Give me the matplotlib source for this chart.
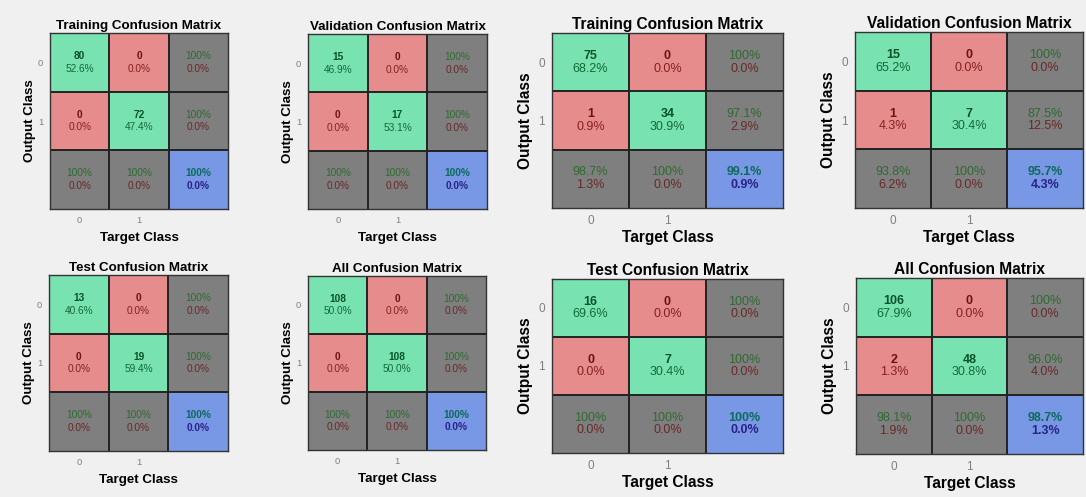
import numpy as np
import matplotlib
matplotlib.use("Agg")
import matplotlib.pyplot as plt

plt.rcParams['font.family'] = ['Liberation Sans', 'DejaVu Sans']

# Data: rows = output class, columns = target class
titles = ["Training", "Validation", "Test", "All"]
classes = ["0", "1"]

# first network (two left columns)
left_counts = [
    [[80, 0], [0, 72]],
    [[15, 0], [0, 17]],
    [[13, 0], [0, 19]],
    [[108, 0], [0, 108]],
]
# second network (two right columns)
right_counts = [
    [[75, 0], [1, 34]],
    [[15, 0], [1, 7]],
    [[16, 0], [0, 7]],
    [[106, 0], [2, 48]],
]

# axes boxes in pixels: (x0, y0, x1, y1), top-left origin
W, H = 1086, 497
left_boxes = [(50, 33, 228, 209), (308, 34, 487, 209),
              (49, 275, 228, 451), (308, 276, 486, 450)]
right_boxes = [(552, 33, 783, 208), (855, 32, 1083, 208),
               (552, 279, 783, 453), (856, 278, 1083, 454)]

GREEN = "#78e2b1"
RED = "#e68c8c"
GRAY = "#7f7f7f"
BLUE = "#7898e6"


def fmt(p):
    if abs(p - 100) < 1e-9:
        return "100%"
    return f"{p:.1f}%"


def draw_cm(fig, box, cm, title, big=False):
    x0, y0, x1, y1 = box
    ax = fig.add_axes([x0 / W, 1 - y1 / H, (x1 - x0) / W, (y1 - y0) / H])
    cm = np.array(cm, dtype=float)
    total = cm.sum()
    fs_cell = 9.0 if big else 7.3
    fs_lab = 11.2 if big else 9.6

    colors = np.empty((3, 3), dtype=object)
    for i in range(3):
        for j in range(3):
            if i < 2 and j < 2:
                colors[i, j] = GREEN if i == j else RED
            elif i == 2 and j == 2:
                colors[i, j] = BLUE
            else:
                colors[i, j] = GRAY
    rgb = np.array([[matplotlib.colors.to_rgb(colors[i, j]) for j in range(3)]
                    for i in range(3)])
    ax.imshow(rgb, extent=(-0.5, 2.5, 2.5, -0.5), aspect="auto",
              interpolation="nearest")

    dy = 0.11
    for i in range(2):
        for j in range(2):
            n = int(cm[i, j])
            p = 100 * cm[i, j] / total
            if i == j:
                c1, c2 = "#085426", "#126a36"
            else:
                c1, c2 = "#701010", "#862020"
            ax.text(j, i - dy, str(n), ha="center", va="center",
                    fontsize=fs_cell, fontweight="bold", color=c1)
            ax.text(j, i + dy, fmt(p), ha="center", va="center",
                    fontsize=fs_cell, color=c2)
    # row summaries (precision)
    for i in range(2):
        s = cm[i].sum()
        p = 100 * cm[i, i] / s if s else 0
        ax.text(2, i - dy, fmt(p), ha="center", va="center",
                fontsize=fs_cell, color="#2f6a30")
        ax.text(2, i + dy, fmt(100 - p), ha="center", va="center",
                fontsize=fs_cell, color="#6a2828")
    # column summaries (recall)
    for j in range(2):
        s = cm[:, j].sum()
        p = 100 * cm[j, j] / s if s else 0
        ax.text(j, 2 - dy, fmt(p), ha="center", va="center",
                fontsize=fs_cell, color="#2f6a30")
        ax.text(j, 2 + dy, fmt(100 - p), ha="center", va="center",
                fontsize=fs_cell, color="#6a2828")
    acc = 100 * np.trace(cm) / total
    ax.text(2, 2 - dy, fmt(acc), ha="center", va="center",
            fontsize=fs_cell, fontweight="bold", color="#0d6a5c")
    ax.text(2, 2 + dy, fmt(100 - acc), ha="center", va="center",
            fontsize=fs_cell, fontweight="bold", color="#2a2288")

    for v in (0.5, 1.5):
        ax.axhline(v, color="#222222", lw=1.4)
        ax.axvline(v, color="#222222", lw=1.4)
    for sp in ax.spines.values():
        sp.set_color("#333333")
        sp.set_linewidth(1.0)

    ax.set_xlim(-0.5, 2.5)
    ax.set_ylim(2.5, -0.5)
    ax.set_xticks([0, 1])
    ax.set_xticklabels(classes)
    ax.set_yticks([0, 1])
    ax.set_yticklabels(classes)
    ax.tick_params(length=0, labelsize=fs_cell - 0.5, labelcolor="#808080",
                   pad=5)
    ax.set_title(f"{title} Confusion Matrix", fontsize=fs_lab,
                 fontweight="bold", pad=3)
    ax.set_xlabel("Target Class", fontsize=fs_lab, fontweight="bold",
                  labelpad=2 if big else 5)
    ax.set_ylabel("Output Class", fontsize=fs_lab, fontweight="bold",
                  labelpad=4 if big else 1)
    return ax


fig = plt.figure(figsize=(W / 100, H / 100), dpi=100, facecolor="#f0f0f0")

for t, cm, b in zip(titles, left_counts, left_boxes):
    draw_cm(fig, b, cm, t)
for t, cm, b in zip(titles, right_counts, right_boxes):
    draw_cm(fig, b, cm, t, big=True)

fig.savefig("out.png", dpi=100, facecolor=fig.get_facecolor())
